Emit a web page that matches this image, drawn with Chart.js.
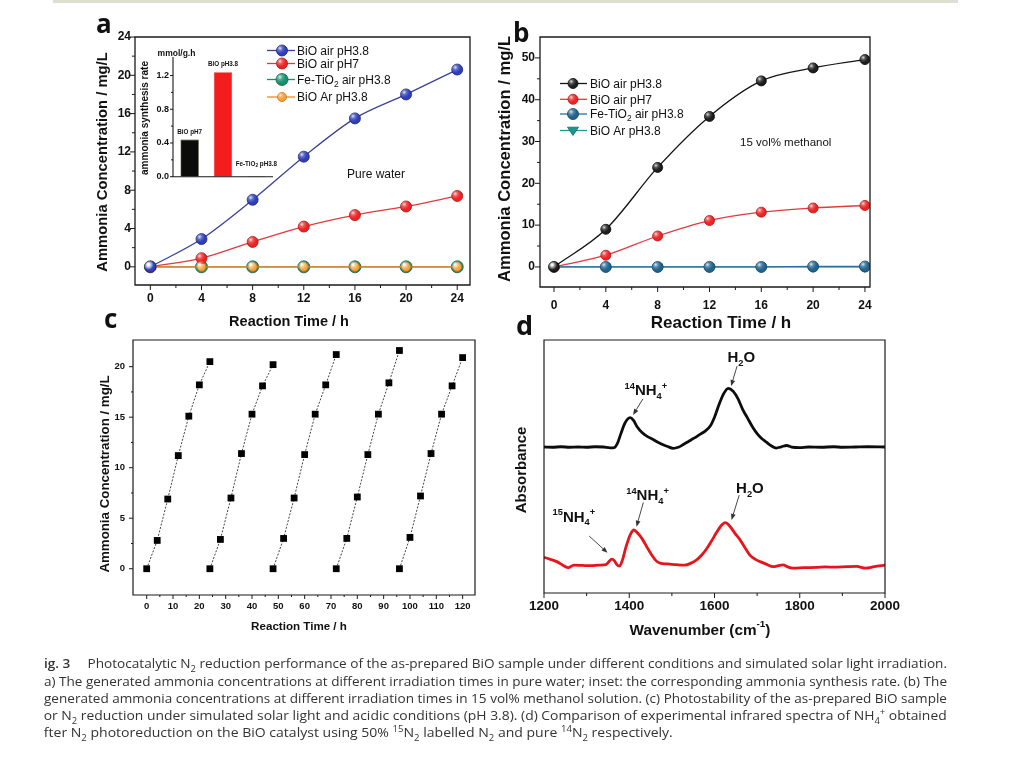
<!DOCTYPE html>
<html><head><meta charset="utf-8">
<script src="https://cdn.jsdelivr.net/npm/chart.js@4.4.1/dist/chart.umd.min.js"></script>
<style>
html,body{margin:0;padding:0;background:#fff;width:1024px;height:768px;overflow:hidden;}
canvas.layer{position:absolute;left:0;top:0;pointer-events:none;}
#topbar{position:absolute;left:53px;top:0;width:905px;height:3px;background:#dde0d0;}
#caption{position:absolute;left:44px;top:650px;width:980px;height:100px;overflow:hidden;}
.cl{position:absolute;left:0;white-space:nowrap;font-family:'Open Sans',sans-serif;font-size:12.5px;color:#333;line-height:17px;transform-origin:0 0;}
.cl sub,.cl sup{font-size:0.68em;line-height:0;}
</style></head><body>
<div id="topbar"></div>
<canvas id="cA" class="layer" width="1024" height="768"></canvas>
<canvas id="cIn" class="layer" width="1024" height="768"></canvas>
<canvas id="cB" class="layer" width="1024" height="768"></canvas>
<canvas id="cC" class="layer" width="1024" height="768"></canvas>
<canvas id="cD" class="layer" width="1024" height="768"></canvas>
<div id="caption">
<div class="cl" data-w="903" style="top:4.5px"><span class="hid">F</span><span class="vis"><span style="font-weight:600">ig. 3</span>&emsp;&nbsp;Photocatalytic N<sub>2</sub> reduction performance of the as-prepared BiO sample under different conditions and simulated solar light irradiation.</span></div>
<div class="cl" data-w="903" style="top:22.5px"><span class="hid">(</span><span class="vis">a) The generated ammonia concentrations at different irradiation times in pure water; inset: the corresponding ammonia synthesis rate. (b) The</span></div>
<div class="cl" data-w="903" style="top:39.5px"><span class="hid"></span><span class="vis">generated ammonia concentrations at different irradiation times in 15 vol% methanol solution. (c) Photostability of the as-prepared BiO sample</span></div>
<div class="cl" data-w="903" style="top:56.5px"><span class="hid">f</span><span class="vis">or N<sub>2</sub> reduction under simulated solar light and acidic conditions (pH 3.8). (d) Comparison of experimental infrared spectra of NH<sub>4</sub><sup>+</sup> obtained</span></div>
<div class="cl" data-w="629" style="top:73.5px"><span class="hid">a</span><span class="vis">fter N<sub>2</sub> photoreduction on the BiO catalyst using 50% <sup>15</sup>N<sub>2</sub> labelled N<sub>2</sub> and pure <sup>14</sup>N<sub>2</sub> respectively.</span></div>
</div>
<script>
// ================= DATA =================
// (a) pure water
const timeA = [0, 4, 8, 12, 16, 20, 24];
const aBiOAirPH38 = [0, 2.9, 7.0, 11.5, 15.5, 18.0, 20.6];
const aBiOAirPH7  = [0, 0.9, 2.6, 4.2, 5.4, 6.3, 7.4];
const aFeTiO2     = [0, 0, 0, 0, 0, 0, 0];
const aBiOArPH38  = [0, 0, 0, 0, 0, 0, 0];
const seriesNamesA = ['BiO air pH3.8', 'BiO air pH7', 'Fe-TiO2 air pH3.8', 'BiO Ar pH3.8'];

// inset of (a): ammonia synthesis rate, mmol/g.h
const insetCats  = ['BiO pH7', 'BiO pH3.8', 'Fe-TiO2 pH3.8'];
const insetRates = [0.44, 1.24, 0.005];

// (b) 15 vol% methanol
const timeB = [0, 4, 8, 12, 16, 20, 24];
const bBiOAirPH38 = [0, 9.0, 23.8, 36.0, 44.5, 47.6, 49.6];
const bBiOAirPH7  = [0, 2.8, 7.4, 11.1, 13.1, 14.1, 14.7];
const bFeTiO2     = [0, 0, 0, 0, 0, 0.1, 0.1];
const bBiOArPH38  = [0, 0, 0, 0, 0, 0, 0];
const seriesNamesB = ['BiO air pH3.8', 'BiO air pH7', 'Fe-TiO2 air pH3.8', 'BiO Ar pH3.8'];

// (c) photostability, five 24 h cycles
const cycle1T = [0, 4, 8, 12, 16, 20, 24];
const cycle1C = [0, 2.8, 6.9, 11.2, 15.1, 18.2, 20.5];
const cycle2T = [24, 28, 32, 36, 40, 44, 48];
const cycle2C = [0, 2.9, 7.0, 11.4, 15.3, 18.1, 20.2];
const cycle3T = [48, 52, 56, 60, 64, 68, 72];
const cycle3C = [0, 3.0, 7.0, 11.3, 15.3, 18.2, 21.2];
const cycle4T = [72, 76, 80, 84, 88, 92, 96];
const cycle4C = [0, 3.0, 7.1, 11.3, 15.3, 18.4, 21.6];
const cycle5T = [96, 100, 104, 108, 112, 116, 120];
const cycle5C = [0, 3.1, 7.2, 11.4, 15.3, 18.1, 20.9];

// (d) IR spectra (arbitrary absorbance units, offset traces)
const wnPure14 = [1200,1220,1240,1260,1280,1300,1320,1340,1355,1365,1372,1380,1390,1402,1410,1418,1430,1442,1455,1465,1478,1490,1503,1515,1527,1540,1552,1565,1578,1590,1600,1610,1621,1632,1644,1655,1666,1677,1690,1700,1710,1722,1733,1745,1757,1769,1781,1800,1820,1850,1880,1900,1930,1960,2000];
const absPure14 = [57.7,57.6,57.8,57.6,57.7,57.6,57.8,57.7,57.4,57.5,59.0,62.8,67.2,69.3,68.2,65.8,63.4,61.9,60.8,59.8,58.7,57.9,57.2,57.6,58.7,60.0,61.2,62.6,64.0,66.0,69.5,74.2,78.6,80.9,79.7,76.8,72.6,69.3,65.4,63.0,61.2,59.6,58.2,57.3,57.8,58.3,57.7,57.5,57.7,57.6,57.8,57.6,57.7,57.8,57.7];
const wnLabel15 = [1200,1215,1230,1245,1257,1270,1290,1310,1330,1345,1352,1359,1365,1370,1377,1384,1392,1402,1411,1420,1430,1441,1452,1462,1472,1490,1510,1530,1545,1558,1570,1582,1594,1605,1615,1625,1635,1648,1660,1672,1683,1695,1707,1720,1738,1750,1761,1772,1785,1810,1840,1860,1880,1910,1934,1954,1975,2000];
const absLabel15 = [14.1,13.3,12.4,10.9,10.0,11.0,10.9,10.8,11.0,11.2,12.3,13.4,12.8,11.4,10.6,13.0,18.0,22.9,24.9,23.6,21.5,18.3,15.2,12.9,11.8,11.5,11.2,11.0,11.8,13.1,15.0,17.6,20.8,24.0,26.5,27.8,26.6,23.6,21.0,17.8,15.0,13.4,12.4,11.5,10.4,10.8,11.1,10.3,9.8,10.0,10.1,10.3,10.2,10.4,10.5,9.8,10.4,11.0];

// tick values
const ticksA_x = [0, 4, 8, 12, 16, 20, 24], minorA_x = [2, 6, 10, 14, 18, 22];
const ticksA_y = [0, 4, 8, 12, 16, 20, 24], minorA_y = [2, 6, 10, 14, 18, 22];
const ticksIn_y = [0, 0.4, 0.8, 1.2], minorIn_y = [0.2, 0.6, 1.0];
const ticksB_x = [0, 4, 8, 12, 16, 20, 24], minorB_x = [2, 6, 10, 14, 18, 22];
const ticksB_y = [0, 10, 20, 30, 40, 50], minorB_y = [5, 15, 25, 35, 45];
const ticksC_x = [0, 10, 20, 30, 40, 50, 60, 70, 80, 90, 100, 110, 120];
const minorC_x = [5, 15, 25, 35, 45, 55, 65, 75, 85, 95, 105, 115];
const ticksC_y = [0, 5, 10, 15, 20], minorC_y = [2.5, 7.5, 12.5, 17.5];
const ticksD_x = [1200, 1400, 1600, 1800, 2000], minorD_x = [1300, 1500, 1700, 1900];

// ================= HELPERS =================
const FONT = "'Liberation Sans', Arial, Helvetica, sans-serif";
Chart.defaults.font.family = FONT;
const AXW = 36, AXH = 30;   // fixed scale box sizes
const xy = (xs, ys) => xs.map((x, i) => ({ x, y: ys[i] }));
const richify = s => s.replace('TiO2', 'TiO_{2}');

function parseRich(s) {
  const out = []; const re = /\^\{([^}]*)\}|_\{([^}]*)\}|([^^_]+)/g; let m;
  while ((m = re.exec(s))) {
    if (m[1] !== undefined) out.push({ t: m[1], k: 'sup' });
    else if (m[2] !== undefined) out.push({ t: m[2], k: 'sub' });
    else out.push({ t: m[3], k: 'n' });
  }
  return out;
}
function drawRich(ctx, s, x, y, size, o = {}) {
  const parts = parseRich(s);
  const weight = o.weight || 'normal', fam = o.family || FONT, small = size * (o.small || 0.62);
  const f = k => `${weight} ${k === 'n' ? size : small}px ${fam}`;
  let w = 0; parts.forEach(p => { ctx.font = f(p.k); p.w = ctx.measureText(p.t).width; w += p.w; });
  ctx.save(); ctx.translate(x, y); if (o.rotate) ctx.rotate(o.rotate);
  ctx.fillStyle = o.color || '#111'; ctx.textBaseline = o.baseline || 'alphabetic'; ctx.textAlign = 'left';
  let cx = o.align === 'center' ? -w / 2 : o.align === 'right' ? -w : 0;
  parts.forEach(p => {
    ctx.font = f(p.k);
    const dy = p.k === 'sub' ? size * 0.25 : p.k === 'sup' ? -size * 0.42 : 0;
    ctx.fillText(p.t, cx, dy); cx += p.w;
  });
  ctx.restore();
}
function shine(ctx, x, y, r) {
  const g = ctx.createRadialGradient(x - r * 0.35, y - r * 0.4, 0, x - r * 0.35, y - r * 0.4, r * 0.95);
  g.addColorStop(0, 'rgba(255,255,255,0.85)');
  g.addColorStop(0.45, 'rgba(255,255,255,0.25)');
  g.addColorStop(1, 'rgba(255,255,255,0)');
  ctx.save(); ctx.fillStyle = g; ctx.beginPath(); ctx.arc(x, y, r, 0, Math.PI * 2); ctx.fill(); ctx.restore();
}
function drawMarker(ctx, ds, x, y) {
  const r = ds.pointRadius;
  ctx.save();
  ctx.fillStyle = ds.pointBackgroundColor; ctx.strokeStyle = ds.pointBorderColor || ds.pointBackgroundColor;
  ctx.lineWidth = ds.pointBorderWidth || 1;
  ctx.beginPath();
  if (ds.pointStyle === 'triangle') {
    ctx.moveTo(x - r, y - r * 0.6); ctx.lineTo(x + r, y - r * 0.6); ctx.lineTo(x, y + r * 0.9); ctx.closePath();
    ctx.fill(); ctx.stroke();
  } else {
    ctx.arc(x, y, r, 0, Math.PI * 2); ctx.fill(); ctx.stroke(); shine(ctx, x, y, r);
  }
  ctx.restore();
}
function arrow(ctx, x1, y1, x2, y2) {
  const a = Math.atan2(y2 - y1, x2 - x1), L = 6, W = 2.4;
  ctx.save(); ctx.strokeStyle = '#333'; ctx.fillStyle = '#333'; ctx.lineWidth = 0.9;
  ctx.beginPath(); ctx.moveTo(x1, y1); ctx.lineTo(x2 - L * Math.cos(a), y2 - L * Math.sin(a)); ctx.stroke();
  ctx.beginPath(); ctx.moveTo(x2, y2);
  ctx.lineTo(x2 - L * Math.cos(a) + W * Math.sin(a), y2 - L * Math.sin(a) - W * Math.cos(a));
  ctx.lineTo(x2 - L * Math.cos(a) - W * Math.sin(a), y2 - L * Math.sin(a) + W * Math.cos(a));
  ctx.closePath(); ctx.fill(); ctx.restore();
}

const decor = {
  id: 'decor',
  afterDatasetsDraw(chart, args, o) {
    const ctx = chart.ctx;
    if (o.shine) {
      chart.data.datasets.forEach((ds, i) => {
        if (ds.pointStyle && ds.pointStyle !== 'circle') return;
        const meta = chart.getDatasetMeta(i);
        meta.data.forEach(p => shine(ctx, p.x, p.y, p.options.radius));
      });
    }
    if (o.barLabels) {
      const B = o.barLabels, meta = chart.getDatasetMeta(0);
      meta.data.forEach((b, i) => {
        const y = Math.min(b.y - B.gap, chart.chartArea.bottom - B.minGap);
        drawRich(ctx, richify(chart.data.labels[i]), b.x, y, B.size, { weight: 'bold', align: 'center', small: 0.75 });
      });
    }
  },
  afterDraw(chart, args, o) {
    const ctx = chart.ctx, ca = chart.chartArea, xs = chart.scales.x, ys = chart.scales.y;
    ctx.save(); ctx.strokeStyle = '#1a1a1a'; ctx.lineWidth = o.lw || 1.3;
    ctx.beginPath();
    if (o.frame === 'box') ctx.rect(ca.left, ca.top, ca.right - ca.left, ca.bottom - ca.top);
    else { ctx.moveTo(ca.left, ca.top); ctx.lineTo(ca.left, ca.bottom); ctx.lineTo(ca.right, ca.bottom); }
    ctx.stroke();
    ctx.lineWidth = 1;
    const t = o.ticks || {};
    const tick = (vals, len, axis) => (vals || []).forEach(v => {
      ctx.beginPath();
      if (axis === 'x') { const p = xs.getPixelForValue(v); ctx.moveTo(p, ca.bottom); ctx.lineTo(p, ca.bottom + len); }
      else { const p = ys.getPixelForValue(v); ctx.moveTo(ca.left, p); ctx.lineTo(ca.left - len, p); }
      ctx.stroke();
    });
    tick(t.xMajor, t.major, 'x'); tick(t.xMinor, t.minor, 'x');
    tick(t.yMajor, t.major, 'y'); tick(t.yMinor, t.minor, 'y');
    ctx.restore();
    (o.texts || []).forEach(tx => drawRich(ctx, tx.s, tx.x, tx.y, tx.size, tx));
    if (o.legend) {
      const L = o.legend;
      chart.data.datasets.forEach((ds, i) => {
        const y = L.rows[i];
        ctx.save(); ctx.strokeStyle = ds.borderColor; ctx.lineWidth = ds.borderWidth;
        ctx.beginPath(); ctx.moveTo(L.x0, y); ctx.lineTo(L.x1, y); ctx.stroke(); ctx.restore();
        drawMarker(ctx, ds, L.mx, y);
        drawRich(ctx, richify(ds.label), L.tx, y + L.size * 0.36, L.size, { small: 0.7 });
      });
    }
    (o.annot || []).forEach(a => {
      drawRich(ctx, a.s, xs.getPixelForValue(a.wn), ys.getPixelForValue(a.ab), 15, { weight: 'bold', align: 'center', small: 0.62 });
      arrow(ctx, xs.getPixelForValue(a.from[0]), ys.getPixelForValue(a.from[1]), xs.getPixelForValue(a.to[0]), ys.getPixelForValue(a.to[1]));
    });
  }
};

function axisX(min, max, major, size, pad, show = true) {
  return {
    type: 'linear', min, max,
    afterFit(s) { s.height = AXH; },
    afterBuildTicks(s) { s.ticks = major.map(v => ({ value: v })); },
    grid: { display: false, drawTicks: false }, border: { display: false },
    ticks: { display: show, font: { family: FONT, size, weight: 'bold' }, color: '#111', padding: pad, maxRotation: 0, autoSkip: false, callback: v => String(v) }
  };
}
function axisY(min, max, major, size, pad, fmt, show = true) {
  const ax = axisX(min, max, major, size, pad, show);
  ax.afterFit = s => { s.width = AXW; };
  if (fmt) ax.ticks.callback = fmt;
  return ax;
}
function baseOptions(plot, scales, decorOpts) {
  return {
    responsive: false, animation: false, devicePixelRatio: 1, events: [],
    layout: { padding: { left: plot.l - AXW, top: plot.t, right: 1024 - plot.r, bottom: 768 - plot.b - AXH } },
    scales,
    plugins: { legend: { display: false }, tooltip: { enabled: false }, decor: decorOpts }
  };
}
function lineDs(label, data, line, fill, border, r, extra = {}) {
  return Object.assign({
    label, data, borderColor: line, borderWidth: 1.3, pointRadius: r,
    pointBackgroundColor: fill, pointBorderColor: border, pointBorderWidth: 0.8,
    cubicInterpolationMode: 'monotone', fill: false
  }, extra);
}

// ================= PANEL A =================
new Chart(document.getElementById('cA'), {
  type: 'line',
  data: { datasets: [
    lineDs(seriesNamesA[0], xy(timeA, aBiOAirPH38), '#3a419b', '#2f3fba', '#1c2575', 5.5, { order: 0 }),
    lineDs(seriesNamesA[1], xy(timeA, aBiOAirPH7), '#e03a3f', '#ee2424', '#a51313', 5.5, { order: 0 }),
    lineDs(seriesNamesA[2], xy(timeA, aFeTiO2), '#18906c', '#14916e', '#0b5c45', 6, { order: 2 }),
    lineDs(seriesNamesA[3], xy(timeA, aBiOArPH38), '#f0891c', '#f6a23c', '#c9731a', 4.5, { order: 1 })
  ] },
  options: baseOptions({ l: 135, t: 37, r: 470, b: 285 },
    { x: axisX(-1.2, 25, ticksA_x, 12, 6), y: axisY(-1.9, 24, ticksA_y, 12, 4) },
    { frame: 'box', shine: true,
      ticks: { major: 5, minor: 3, xMajor: ticksA_x, xMinor: minorA_x, yMajor: ticksA_y, yMinor: minorA_y },
      legend: { x0: 267, x1: 295, mx: 282, tx: 297, rows: [50.5, 63.5, 79.5, 97], size: 12 },
      texts: [
        { s: 'a', x: 96, y: 33, size: 26, weight: 'bold', family: "'Open Sans', sans-serif" },
        { s: 'Ammonia Concentration / mg/L', x: 103, y: 162, size: 14.8, weight: 'bold', align: 'center', baseline: 'middle', rotate: -Math.PI / 2 },
        { s: 'Reaction Time / h', x: 289, y: 322, size: 14.5, weight: 'bold', align: 'center', baseline: 'middle' },
        { s: 'Pure water', x: 347, y: 177.5, size: 12 }
      ] })
  , plugins: [decor]
});

// ================= INSET OF A =================
new Chart(document.getElementById('cIn'), {
  type: 'bar',
  data: { labels: insetCats, datasets: [{
    label: 'ammonia synthesis rate', data: insetRates,
    backgroundColor: ['#0b0b0b', '#f41d1d', '#333'], borderColor: ['#2a2a10', '#e01010', '#222'], borderWidth: 0.6,
    barPercentage: 0.55, categoryPercentage: 1
  }] },
  options: baseOptions({ l: 173, t: 57, r: 273, b: 176.7 }, {
    x: { type: 'category', offset: true, afterFit(s) { s.height = AXH; }, grid: { display: false, drawTicks: false }, border: { display: false }, ticks: { display: false } },
    y: axisY(0, 1.42, ticksIn_y, 9, 4, v => Number(v).toFixed(1))
  }, {
    frame: 'L', lw: 1.1,
    ticks: { major: 3, minor: 2, yMajor: ticksIn_y, yMinor: minorIn_y },
    barLabels: { gap: 6, minGap: 11, size: 6.3 },
    texts: [
      { s: 'mmol/g.h', x: 176.5, y: 56, size: 8.5, weight: 'bold', align: 'center' },
      { s: 'ammonia synthesis rate', x: 145, y: 118, size: 10, weight: 'bold', align: 'center', baseline: 'middle', rotate: -Math.PI / 2 }
    ]
  }),
  plugins: [decor]
});

// ================= PANEL B =================
new Chart(document.getElementById('cB'), {
  type: 'line',
  data: { datasets: [
    lineDs(seriesNamesB[0], xy(timeB, bBiOAirPH38), '#141414', '#1e1e1e', '#000', 5, { order: 0 }),
    lineDs(seriesNamesB[1], xy(timeB, bBiOAirPH7), '#e23a40', '#ee2424', '#a51313', 5, { order: 0 }),
    lineDs(seriesNamesB[2], xy(timeB, bFeTiO2), '#2b6fa6', '#21648e', '#123f5e', 5.5, { order: 1 }),
    lineDs(seriesNamesB[3], xy(timeB, bBiOArPH38), '#1d9a94', '#1a978f', '#0f6a64', 5.5, { order: 2, pointStyle: 'triangle', pointRotation: 180 })
  ] },
  options: baseOptions({ l: 540, t: 37, r: 870, b: 287 },
    { x: axisX(-1.08, 24.39, ticksB_x, 12, 11), y: axisY(-4.8, 55, ticksB_y, 12, 5) },
    { frame: 'box', shine: true,
      ticks: { major: 5, minor: 3, xMajor: ticksB_x, xMinor: minorB_x, yMajor: ticksB_y, yMinor: minorB_y },
      legend: { x0: 560, x1: 587, mx: 573, tx: 590, rows: [83.5, 99.3, 114, 130.5], size: 12 },
      texts: [
        { s: 'b', x: 513, y: 41.5, size: 26, weight: 'bold', family: "'Open Sans', sans-serif" },
        { s: 'Ammonia Concentration / mg/L', x: 505, y: 159, size: 16.6, weight: 'bold', align: 'center', baseline: 'middle', rotate: -Math.PI / 2 },
        { s: 'Reaction Time / h', x: 721, y: 323.5, size: 17, weight: 'bold', align: 'center', baseline: 'middle' },
        { s: '15 vol% methanol', x: 740, y: 146, size: 11.5 }
      ] }),
  plugins: [decor]
});

// ================= PANEL C =================
const cycT = [cycle1T, cycle2T, cycle3T, cycle4T, cycle5T];
const cycC = [cycle1C, cycle2C, cycle3C, cycle4C, cycle5C];
new Chart(document.getElementById('cC'), {
  type: 'line',
  data: { datasets: cycT.map((t, i) => ({
    label: 'Cycle ' + (i + 1), data: xy(t, cycC[i]),
    borderColor: '#444', borderWidth: 1, borderDash: [2, 1.5], tension: 0,
    pointStyle: 'rect', pointRadius: 4.8, pointBackgroundColor: '#000', pointBorderColor: '#000', pointBorderWidth: 0
  })) },
  options: baseOptions({ l: 133, t: 340, r: 475, b: 595 },
    { x: axisX(-5.2, 124.7, ticksC_x, 9.5, 6), y: axisY(-2.6, 22.64, ticksC_y, 9.5, 8) },
    { frame: 'box', lw: 1.2,
      ticks: { major: 4, minor: 2, xMajor: ticksC_x, xMinor: minorC_x, yMajor: ticksC_y, yMinor: minorC_y },
      texts: [
        { s: 'c', x: 104, y: 328, size: 26, weight: 'bold', family: "'Open Sans', sans-serif" },
        { s: 'Ammonia Concentration / mg/L', x: 105, y: 474, size: 13.3, weight: 'bold', align: 'center', baseline: 'middle', rotate: -Math.PI / 2 },
        { s: 'Reaction Time / h', x: 299, y: 627, size: 11.6, weight: 'bold', align: 'center', baseline: 'middle' }
      ] }),
  plugins: [decor]
});

// ================= PANEL D =================
const annotD = [
  { s: 'H_{2}O', wn: 1663, ab: 91.4, from: [1653, 89.7], to: [1639, 81.8] },
  { s: '^{14}NH_{4}^{+}', wn: 1439, ab: 78.3, from: [1432, 76.7], to: [1409, 70.4] },
  { s: '^{14}NH_{4}^{+}', wn: 1443, ab: 36.8, from: [1433, 35.8], to: [1417, 26.2] },
  { s: 'H_{2}O', wn: 1683, ab: 39.6, from: [1658, 38.7], to: [1640, 28.9] },
  { s: '^{15}NH_{4}^{+}', wn: 1270, ab: 28.2, from: [1306, 22.5], to: [1349, 15.9] }
];
new Chart(document.getElementById('cD'), {
  type: 'line',
  data: { datasets: [
    { label: 'pure 14N2', data: xy(wnPure14, absPure14), borderColor: '#0d0d0d', borderWidth: 2.8, pointRadius: 0, cubicInterpolationMode: 'monotone' },
    { label: '50% 15N2 labelled N2', data: xy(wnLabel15, absLabel15), borderColor: '#e4161c', borderWidth: 2.8, pointRadius: 0, cubicInterpolationMode: 'monotone' }
  ] },
  options: baseOptions({ l: 544, t: 340, r: 885, b: 593 },
    { x: axisX(1200, 2000, ticksD_x, 13.5, 5), y: axisY(0, 100, [0, 100], 10, 4, null, false) },
    { frame: 'box', lw: 1.2,
      ticks: { major: 5, minor: 3, xMajor: ticksD_x, xMinor: minorD_x },
      annot: annotD,
      texts: [
        { s: 'd', x: 516, y: 335, size: 27, weight: 'bold', family: "'Open Sans', sans-serif" },
        { s: 'Absorbance', x: 521.5, y: 470, size: 15, weight: 'bold', align: 'center', baseline: 'middle', rotate: -Math.PI / 2 },
        { s: 'Wavenumber (cm^{-1})', x: 700, y: 631, size: 15.3, weight: 'bold', align: 'center', baseline: 'middle', small: 0.65 }
      ] }),
  plugins: [decor]
});

// ================= CAPTION FITTING =================
document.querySelectorAll('.cl').forEach(el => {
  const vis = el.querySelector('.vis'), hid = el.querySelector('.hid');
  const vw = vis.getBoundingClientRect().width, hw = hid.getBoundingClientRect().width;
  const sx = parseFloat(el.dataset.w) / vw;
  el.style.left = (-hw * sx) + 'px';
  el.style.transform = `scaleX(${sx})`;
});
</script>
</body></html>
